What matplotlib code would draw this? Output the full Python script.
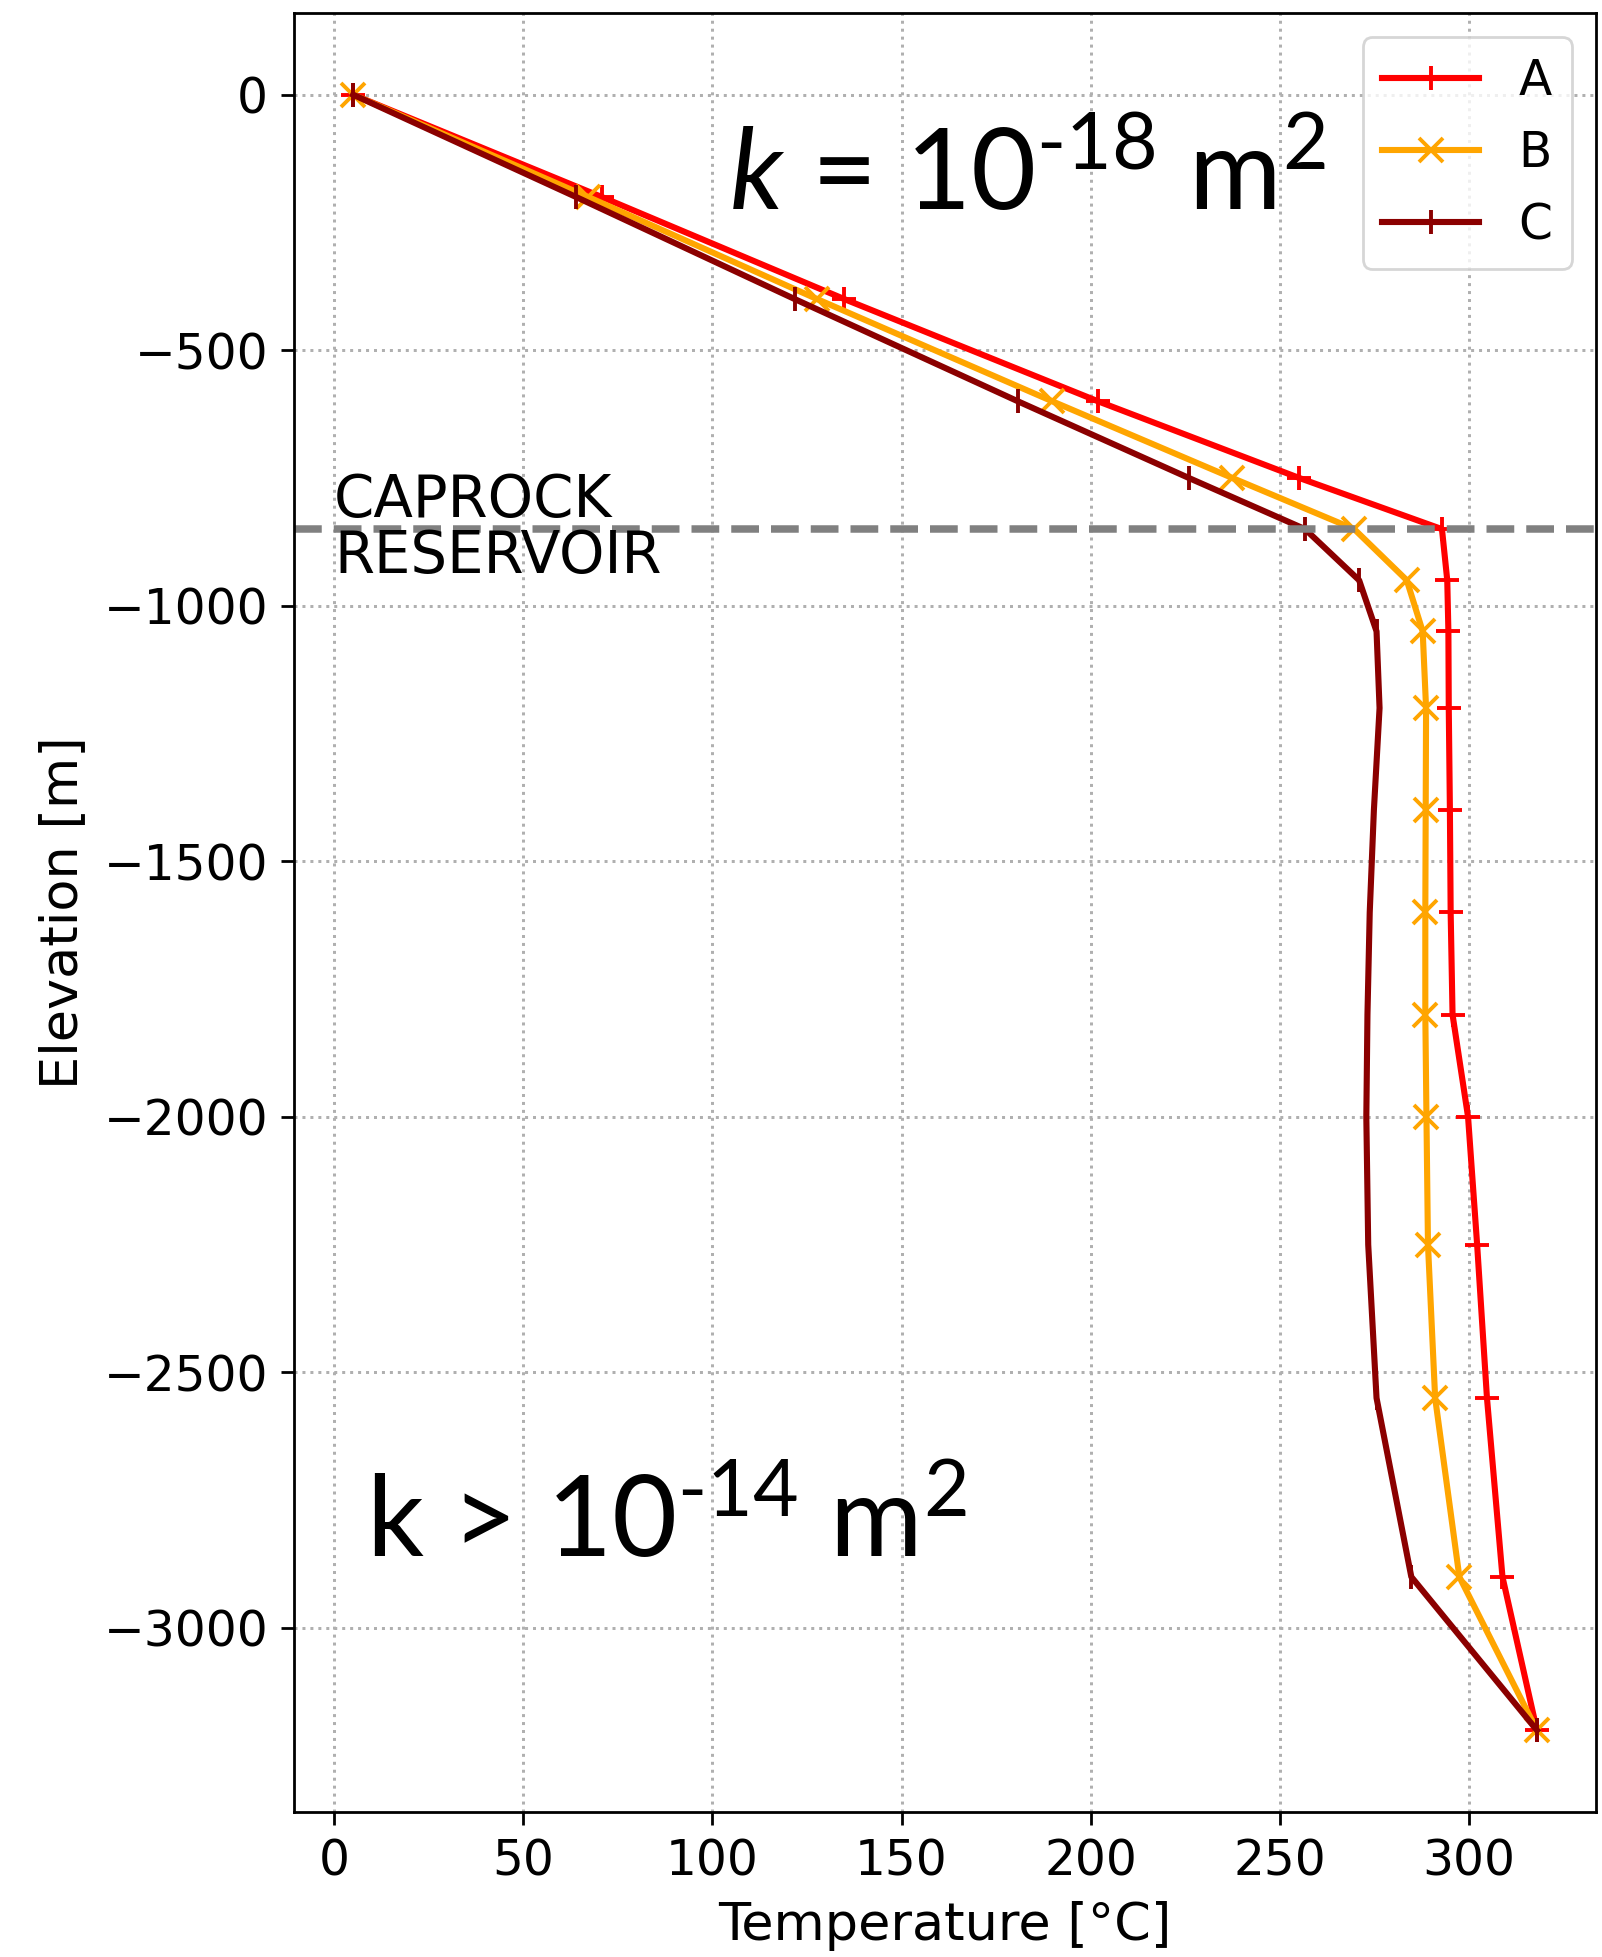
import matplotlib
matplotlib.use('Agg')
import matplotlib.pyplot as plt

# ---------------- data ----------------
elevation = [0, -200, -400, -600, -750, -850, -950, -1050, -1200, -1400,
             -1600, -1800, -2000, -2250, -2550, -2900, -3200]
temp_A = [5, 70.7, 134.9, 202.0, 255.2, 292.9, 294.3, 294.6, 294.7, 295.0,
          295.2, 295.7, 299.8, 302.2, 304.8, 308.9, 318.0]
temp_B = [5, 67.1, 127.7, 189.9, 237.5, 269.7, 283.6, 287.8, 288.7, 288.6,
          288.5, 288.5, 288.8, 289.2, 291.1, 297.5, 318.0]
temp_C = [5, 63.9, 121.8, 180.8, 226.0, 256.7, 271.0, 275.6, 276.4, 274.9,
          273.8, 273.2, 272.9, 273.4, 275.6, 284.8, 318.0]
series_labels = ['A', 'B', 'C']
caprock_elevation = -850
x_label = 'Temperature [°C]'
y_label = 'Elevation [m]'

# ---------------- style ----------------
plt.rcParams['mathtext.fontset'] = 'custom'
plt.rcParams['mathtext.rm'] = 'Lato'
plt.rcParams['mathtext.it'] = 'Lato:italic'
plt.rcParams['font.family'] = ['DejaVu Sans']

fig = plt.figure(figsize=(8.01, 9.785), dpi=200)
ax = fig.add_axes([0.1835, 0.0741, 0.8128, 0.9193])

lw = 2.2
ms = 8.5
mew = 1.4
ax.plot(temp_A, elevation, color='red', marker='+', ms=ms, mew=mew, lw=lw,
        label=series_labels[0])
ax.plot(temp_B, elevation, color='orange', marker='x', ms=ms, mew=mew, lw=lw,
        label=series_labels[1])
ax.plot(temp_C, elevation, color='darkred', marker='|', ms=ms, mew=mew, lw=lw,
        label=series_labels[2])

ax.axhline(caprock_elevation, color='gray', linestyle='--', lw=2.7)

ax.grid(True, linestyle=':', color='#b0b0b0', lw=1.08)

ax.text(0, -826, 'CAPROCK', fontsize=20.8, va='baseline', ha='left')
ax.text(0, -936, 'RESERVOIR', fontsize=20.8, va='baseline', ha='left')

ax.text(104.5, -226, r'$\mathit{k}$ = 10$^{\text{-18}}$ m$^{\mathrm{2}}$',
        fontfamily='Lato', fontsize=40.5, va='baseline', ha='left')
ax.text(8.5, -2860, r'k > 10$^{\text{-14}}$ m$^{\mathrm{2}}$',
        fontfamily='Lato', fontsize=40.5, va='baseline', ha='left')

ax.set_xlabel(x_label, fontsize=18.9, labelpad=5.4)
ax.set_ylabel(y_label, fontsize=18.9, labelpad=5.4)
ax.tick_params(labelsize=17.5, length=4.6, width=1.0, pad=4.7)
for s in ax.spines.values():
    s.set_linewidth(1.0)

leg = ax.legend(loc='upper right', fontsize=17.5)
leg.get_frame().set_linewidth(1.0)

fig.savefig('out.png', dpi=200)
